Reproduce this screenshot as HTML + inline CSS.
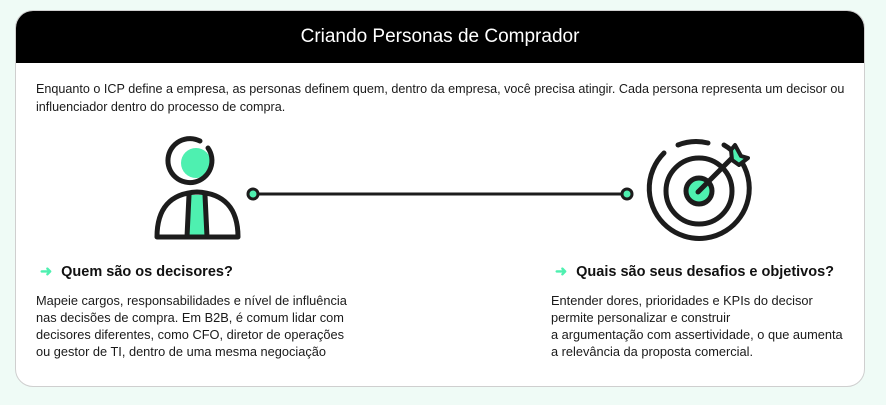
<!DOCTYPE html>
<html><head><meta charset="utf-8"><style>
body{margin:0;width:886px;height:405px;background:#effbf6;font-family:"Liberation Sans",sans-serif;position:relative;overflow:hidden}
.card{position:absolute;left:15px;top:10px;width:848px;height:375px;background:#fff;border:1.5px solid #cfcfcf;border-radius:18px;overflow:hidden}
.hd{height:52px;background:#000;color:#fff;font-size:19px;text-align:center;line-height:52px}
.p{position:absolute;font-size:12.8px;color:#1a1a1a;line-height:18px}
.h{position:absolute;font-size:14.5px;font-weight:bold;color:#111}
.h span{color:#4ef0b0;margin-right:9px}
</style></head><body>
<div class="card"><div class="hd">Criando Personas de Comprador</div></div>
<div class="p" style="left:36px;top:80px;width:830px;font-size:12.6px">Enquanto o ICP define a empresa, as personas definem quem, dentro da empresa, você precisa atingir. Cada persona representa um decisor ou influenciador dentro do processo de compra.</div>
<svg style="position:absolute;left:0;top:0" width="886" height="405">
<g fill="none" stroke="#1c1c1c" stroke-width="5" stroke-linecap="round">
<circle cx="196" cy="163" r="15" fill="#4ef0b0" stroke="none"/>
<path d="M208 148 A22 22 0 1 1 200 141"/>
<path d="M157 237 Q157 194 197 192 Q238 194 238 237 Z" stroke-linejoin="round"/>
<path d="M189 195 L187 237 L207 237 L205 195" fill="#4ef0b0"/>
</g>
<line x1="253" y1="194" x2="627" y2="194" stroke="#1c1c1c" stroke-width="3"/>
<circle cx="253" cy="194" r="5" fill="#4ef0b0" stroke="#1c1c1c" stroke-width="3"/>
<circle cx="627" cy="194" r="5" fill="#4ef0b0" stroke="#1c1c1c" stroke-width="3"/>
<g fill="none" stroke="#1c1c1c" stroke-width="5" stroke-linecap="round">
<path d="M664 153 A50 50 0 1 0 724 145" />
<path d="M678 145 A50 50 0 0 1 708 143"/>
<circle cx="699" cy="191" r="33"/>
<circle cx="699" cy="191" r="13" fill="#4ef0b0"/>
<line x1="698" y1="192" x2="733" y2="157"/>
<path d="M731 150 L735 145 L741 156 L748 158 L739 165 L732 160 Z" fill="#4ef0b0" stroke-width="4" stroke-linejoin="round"/>
</g>
</svg>
<div class="h" style="left:40px;top:264px"><span>➜</span>Quem são os decisores?</div>
<div class="h" style="left:555px;top:264px"><span>➜</span>Quais são seus desafios e objetivos?</div>
<div class="p" style="left:36px;top:292px;width:320px;line-height:17px">Mapeie cargos, responsabilidades e nível de influência nas decisões de compra. Em B2B, é comum lidar com decisores diferentes, como CFO, diretor de operações ou gestor de TI, dentro de uma mesma negociação</div>
<div class="p" style="left:551px;top:292px;width:310px;line-height:17px">Entender dores, prioridades e KPIs do decisor<br>permite personalizar e construir<br>a argumentação com assertividade, o que aumenta<br>a relevância da proposta comercial.</div>
</body></html>
